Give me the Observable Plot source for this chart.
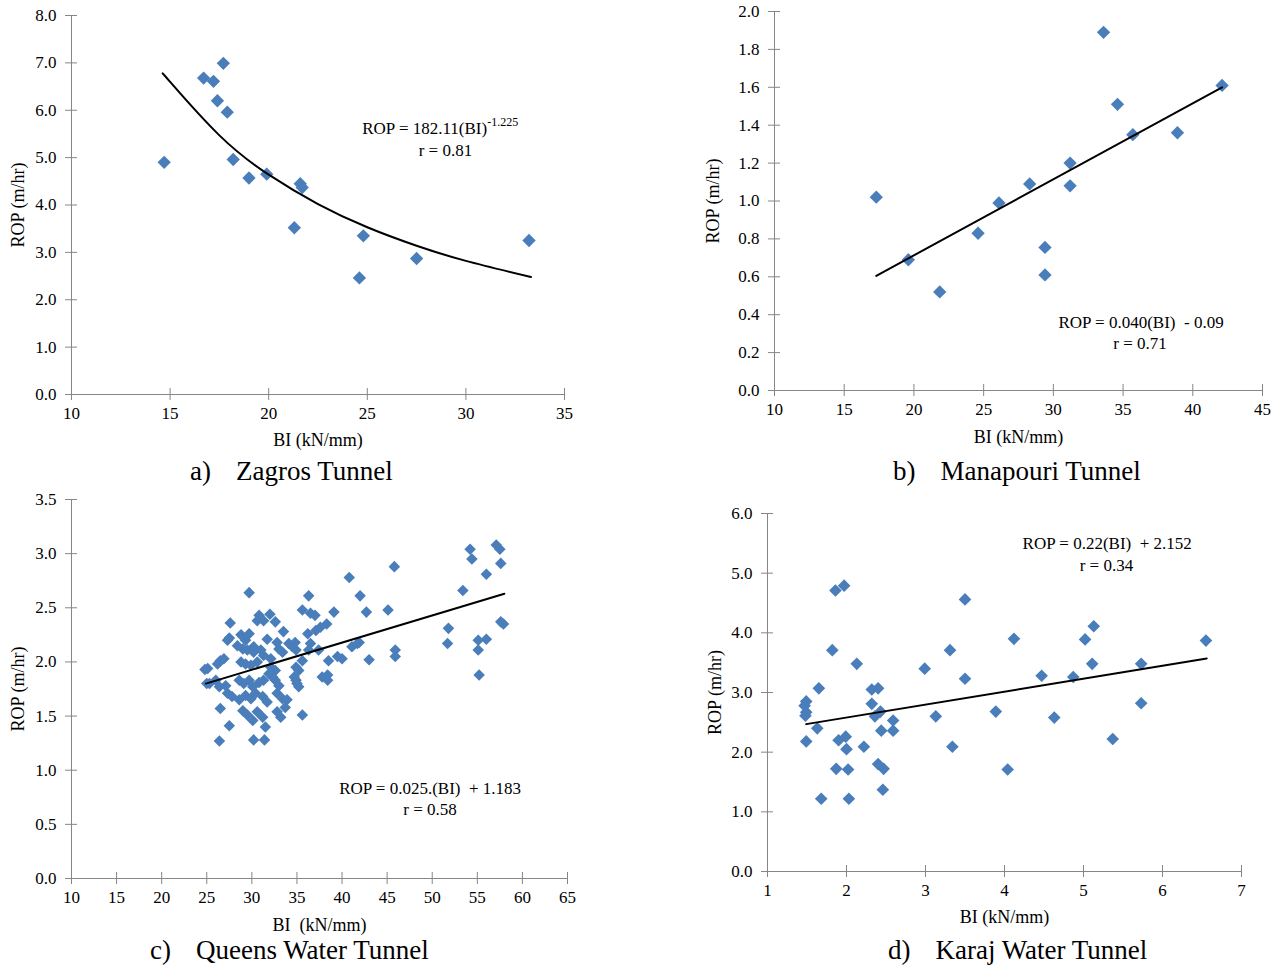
<!DOCTYPE html>
<html>
<head>
<meta charset="utf-8">
<script src="https://cdn.jsdelivr.net/npm/d3@7"></script>
<script src="https://cdn.jsdelivr.net/npm/@observablehq/plot@0.6"></script>
<style>
  html, body { margin: 0; padding: 0; background: #fff; }
  #root { position: relative; width: 1278px; height: 965px; font-family: "Liberation Serif", "Times New Roman", serif; }
  .panel { position: absolute; }
  .cap { position: absolute; font-size: 27px; line-height: 32px; white-space: nowrap; color: #000; }
  .cap span + span { margin-left: 25px; }
  svg text { white-space: pre; }
</style>
</head>
<body>
<div id="root"></div>
<script>
// ---------------- Data ----------------
// a) Zagros Tunnel
const zagrosBI  = [14.7, 16.7, 17.2, 17.7, 17.4, 17.9, 18.2, 19.0, 19.9, 21.6, 21.7, 21.3, 24.6, 24.8, 27.5, 33.2];
const zagrosROP = [4.90, 6.68, 6.61, 6.99, 6.20, 5.96, 4.96, 4.57, 4.65, 4.45, 4.37, 3.52, 2.46, 3.35, 2.87, 3.25];
const zagrosFitBI  = [14.7, 15, 17.5, 20, 22.5, 25, 27.5, 30, 33.3];
const zagrosFitROP = [6.74, 6.60, 5.47, 4.64, 4.02, 3.53, 3.14, 2.82, 2.48];

// b) Manapouri Tunnel
const manaBI  = [17.3, 19.6, 21.85, 24.6, 26.1, 28.3, 29.4, 29.4, 31.2, 31.2, 33.6, 34.6, 35.7, 38.9, 42.1];
const manaROP = [1.02, 0.69, 0.52, 0.83, 0.99, 1.09, 0.755, 0.61, 1.20, 1.08, 1.89, 1.51, 1.35, 1.36, 1.61];
const manaFitBI  = [17.3, 42.1];
const manaFitROP = [0.605, 1.60];

// c) Queens Water Tunnel
const queensBI = [
  54.2, 54.4, 57.1, 57.5, 57.6, 56.0, 53.4, 57.6, 57.9, 51.8, 51.7, 55.1, 56.0, 55.1, 55.2,
  45.9, 45.9, 43.0, 45.8, 45.1, 42.7, 42.0, 40.8, 39.1, 41.1, 41.7, 41.9, 39.5, 40.0, 38.5,
  38.3, 37.8, 38.4, 38.4, 37.4,
  29.7, 36.3, 27.6, 30.8, 32.0, 31.3, 30.6, 32.6, 35.6, 36.5, 37.0, 33.5, 27.5, 27.3, 28.8,
  29.7, 29.3, 31.7, 32.8, 34.8, 34.5, 34.9, 36.5, 36.3, 37.1, 37.6, 30.2, 31.0, 30.2, 29.5,
  29.0, 28.4, 31.3, 32.1, 33.0, 33.4, 26.5, 26.9, 26.2, 25.1, 28.8, 29.3, 29.9, 30.6, 32.1,
  32.6, 31.9, 34.9, 35.2, 35.6, 25.3, 26.0, 26.4, 27.1, 28.6, 29.1, 29.7, 30.1, 30.8, 31.3,
  32.3, 32.6, 33.0, 34.9, 35.2, 27.3, 27.8, 28.6, 29.3, 29.9, 30.4, 31.2, 31.7, 32.8, 33.4,
  33.9, 26.5, 29.0, 29.5, 30.1, 30.6, 31.2, 32.8, 33.2, 33.7, 35.6, 27.5, 31.5, 26.4, 30.2,
  31.4, 24.8, 25.0, 34.1, 36.2, 34.7, 35.0
];
const queensROP = [
  3.04, 2.95, 3.08, 3.04, 2.91, 2.81, 2.66, 2.37, 2.35, 2.31, 2.17, 2.20, 2.21, 2.11, 1.88,
  2.11, 2.05, 2.02, 2.88, 2.48, 2.46, 2.61, 2.78, 2.46, 2.14, 2.17, 2.18, 2.05, 2.03, 2.01,
  2.35, 1.86, 1.83, 1.88, 2.11,
  2.64, 2.61, 2.36, 2.43, 2.44, 2.38, 2.38, 2.37, 2.48, 2.45, 2.43, 2.28, 2.22, 2.20, 2.25,
  2.26, 2.20, 2.21, 2.18, 2.18, 2.14, 2.11, 2.17, 2.11, 2.29, 2.32, 2.14, 2.11, 2.09, 2.11,
  2.12, 2.15, 2.06, 2.03, 2.12, 2.09, 2.01, 2.03, 1.98, 1.94, 2.00, 1.98, 1.97, 2.00, 1.95,
  1.92, 1.89, 1.95, 1.92, 2.01, 1.80, 1.83, 1.77, 1.78, 1.83, 1.80, 1.83, 1.77, 1.81, 1.83,
  1.86, 1.83, 1.78, 1.83, 1.77, 1.71, 1.68, 1.65, 1.69, 1.66, 1.71, 1.68, 1.63, 1.71, 1.66,
  1.65, 1.57, 1.55, 1.51, 1.46, 1.54, 1.49, 1.54, 1.49, 1.58, 1.51, 1.41, 1.40, 1.27, 1.28,
  1.28, 1.93, 1.80, 2.17, 2.26, 1.86, 1.80
];
const queensFitBI  = [24.9, 58.0];
const queensFitROP = [1.80, 2.63];

// d) Karaj Water Tunnel
const karajBI = [
  1.49, 1.47, 1.49, 1.48, 1.49, 1.63, 1.65, 1.68, 1.82, 1.86, 1.97, 1.87, 1.90, 1.99, 2.00,
  2.02, 2.03, 2.13, 2.22, 2.32, 2.40, 2.32, 2.36, 2.43, 2.44, 2.40, 2.47, 2.46, 2.59, 2.59,
  2.99, 3.13, 3.31, 3.34, 3.50, 3.50, 3.89, 4.04, 4.12, 4.47, 4.63, 4.87, 5.02, 5.13, 5.11,
  5.37, 5.73, 5.73, 6.55
];
const karajROP = [
  2.85, 2.78, 2.67, 2.61, 2.18, 2.40, 3.07, 1.22, 3.71, 4.71, 4.79, 1.72, 2.20, 2.26, 2.05,
  1.71, 1.22, 3.48, 2.09, 3.05, 3.07, 2.81, 2.60, 2.68, 2.36, 1.80, 1.72, 1.37, 2.53, 2.36,
  3.40, 2.60, 3.71, 2.09, 4.56, 3.23, 2.68, 1.71, 3.90, 3.28, 2.58, 3.26, 3.89, 4.11, 3.48,
  2.22, 3.48, 2.82, 3.87
];
const karajFitBI  = [1.49, 6.56];
const karajFitROP = [2.47, 3.57];

// Axis ticks
const ticksA_x = [10, 15, 20, 25, 30, 35];
const ticksA_y = [0, 1, 2, 3, 4, 5, 6, 7, 8];
const ticksB_x = [10, 15, 20, 25, 30, 35, 40, 45];
const ticksB_y = [0, 0.2, 0.4, 0.6, 0.8, 1.0, 1.2, 1.4, 1.6, 1.8, 2.0];
const ticksC_x = [10, 15, 20, 25, 30, 35, 40, 45, 50, 55, 60, 65];
const ticksC_y = [0, 0.5, 1.0, 1.5, 2.0, 2.5, 3.0, 3.5];
const ticksD_x = [1, 2, 3, 4, 5, 6, 7];
const ticksD_y = [0, 1, 2, 3, 4, 5, 6];

// Equation annotations (data coordinates)
const eqA = [
  {x: 31.08, y: 5.62, text: "ROP = 182.11(BI)", anchor: "end", sup: false},
  {x: 31.08, y: 5.62, text: "-1.225", anchor: "start", sup: true},
  {x: 28.96, y: 5.15, text: "r = 0.81", anchor: "middle", sup: false}
];
const eqB = [
  {x: 36.29, y: 0.360, text: "ROP = 0.040(BI)  - 0.09", anchor: "middle", sup: false},
  {x: 36.22, y: 0.246, text: "r = 0.71", anchor: "middle", sup: false}
];
const eqC = [
  {x: 49.77, y: 0.83, text: "ROP = 0.025.(BI)  + 1.183", anchor: "middle", sup: false},
  {x: 49.75, y: 0.637, text: "r = 0.58", anchor: "middle", sup: false}
];
const eqD = [
  {x: 5.30, y: 5.49, text: "ROP = 0.22(BI)  + 2.152", anchor: "middle", sup: false},
  {x: 5.29, y: 5.13, text: "r = 0.34", anchor: "middle", sup: false}
];

// ---------------- Drawing ----------------
const AXIS = "#868686";
const PT = "#4a7ebb";
const root = document.getElementById("root");

function panel(cfg) {
  const pts = cfg.bi.map((b, i) => ({bi: b, rop: cfg.rop[i]}));
  const fit = cfg.fitBI.map((b, i) => ({bi: b, rop: cfg.fitROP[i]}));
  const xd = [cfg.xTicks[0], cfg.xTicks[cfg.xTicks.length - 1]];
  const yd = [cfg.yTicks[0], cfg.yTicks[cfg.yTicks.length - 1]];
  const eqMarks = ["start", "middle", "end"].flatMap(a => {
    const main = cfg.eq.filter(d => d.anchor === a && !d.sup);
    const sup = cfg.eq.filter(d => d.anchor === a && d.sup);
    return [
      main.length ? Plot.text(main, {x: "x", y: "y", text: "text", textAnchor: a, fontSize: 17, fill: "#000"}) : null,
      sup.length ? Plot.text(sup, {x: "x", y: "y", text: "text", textAnchor: a, fontSize: 12, dy: -6, fill: "#000"}) : null
    ];
  }).filter(Boolean);
  const plot = Plot.plot({
    width: cfg.width,
    height: cfg.height,
    marginTop: cfg.m[0], marginRight: cfg.m[1], marginBottom: cfg.m[2], marginLeft: cfg.m[3],
    x: {domain: xd},
    y: {domain: yd},
    style: {fontFamily: '"Liberation Serif", "Times New Roman", serif', fontSize: "17px", color: "#000", background: "transparent", overflow: "visible"},
    marks: [
      Plot.ruleX([xd[0]], {stroke: AXIS, strokeWidth: 1}),
      Plot.ruleY([yd[0]], {stroke: AXIS, strokeWidth: 1}),
      Plot.axisX(cfg.xTicks, {tickSize: 12, dy: -6, tickPadding: 6, stroke: AXIS, fill: "#000", label: null, tickFormat: d3.format("d"), fontSize: 17}),
      Plot.axisY(cfg.yTicks, {tickSize: 12, dx: 6, tickPadding: 9, stroke: AXIS, fill: "#000", label: null, tickFormat: d3.format(".1f"), fontSize: 17}),
      Plot.dot(pts, {x: "bi", y: "rop", symbol: "diamond2", r: cfg.r, fill: PT, stroke: "none"}),
      Plot.line(fit, {x: "bi", y: "rop", stroke: "#000", strokeWidth: 2, curve: cfg.curve || "linear"}),
      ...eqMarks,
      Plot.text([cfg.xLabel], {frameAnchor: "bottom", dy: cfg.xLabelDy, text: d => d, fontSize: 18, textAnchor: "middle", lineAnchor: "middle", fill: "#000"}),
      Plot.text([cfg.yLabel], {frameAnchor: "left", dx: cfg.yLabelDx, rotate: -90, text: d => d, fontSize: 18, textAnchor: "middle", lineAnchor: "middle", fill: "#000"})
    ]
  });
  const wrap = document.createElement("div");
  wrap.className = "panel";
  wrap.style.left = cfg.left + "px";
  wrap.style.top = cfg.top + "px";
  wrap.appendChild(plot);
  root.appendChild(wrap);

  const cap = document.createElement("div");
  cap.className = "cap";
  cap.style.left = cfg.cap.left + "px";
  cap.style.top = cfg.cap.top + "px";
  const s1 = document.createElement("span"); s1.textContent = cfg.cap.letter;
  const s2 = document.createElement("span"); s2.textContent = cfg.cap.title;
  cap.appendChild(s1); cap.appendChild(s2);
  root.appendChild(cap);
}

panel({
  bi: zagrosBI, rop: zagrosROP, fitBI: zagrosFitBI, fitROP: zagrosFitROP, curve: "natural",
  xTicks: ticksA_x, yTicks: ticksA_y, r: 6, eq: eqA,
  left: 0, top: 0, width: 600, height: 460, m: [15, 36, 66, 71],
  xLabel: "BI (kN/mm)", xLabelDy: 46, yLabel: "ROP (m/hr)", yLabelDx: -53,
  cap: {left: 190, top: 455, letter: "a)", title: "Zagros Tunnel"}
});
panel({
  bi: manaBI, rop: manaROP, fitBI: manaFitBI, fitROP: manaFitROP,
  xTicks: ticksB_x, yTicks: ticksB_y, r: 6, eq: eqB,
  left: 700, top: 0, width: 578, height: 460, m: [11, 16, 70, 74],
  xLabel: "BI (kN/mm)", xLabelDy: 47, yLabel: "ROP (m/hr)", yLabelDx: -61,
  cap: {left: 893, top: 455, letter: "b)", title: "Manapouri Tunnel"}
});
panel({
  bi: queensBI, rop: queensROP, fitBI: queensFitBI, fitROP: queensFitROP,
  xTicks: ticksC_x, yTicks: ticksC_y, r: 5.2, eq: eqC,
  left: 0, top: 480, width: 600, height: 470, m: [19, 33, 72, 71],
  xLabel: "BI  (kN/mm)", xLabelDy: 47, yLabel: "ROP (m/hr)", yLabelDx: -53,
  cap: {left: 150, top: 934, letter: "c)", title: "Queens Water Tunnel"}
});
panel({
  bi: karajBI, rop: karajROP, fitBI: karajFitBI, fitROP: karajFitROP,
  xTicks: ticksD_x, yTicks: ticksD_y, r: 5.7, eq: eqD,
  left: 700, top: 480, width: 578, height: 470, m: [33, 37, 79, 67],
  xLabel: "BI (kN/mm)", xLabelDy: 46, yLabel: "ROP (m/hr)", yLabelDx: -52,
  cap: {left: 888, top: 934, letter: "d)", title: "Karaj Water Tunnel"}
});
</script>
</body>
</html>
